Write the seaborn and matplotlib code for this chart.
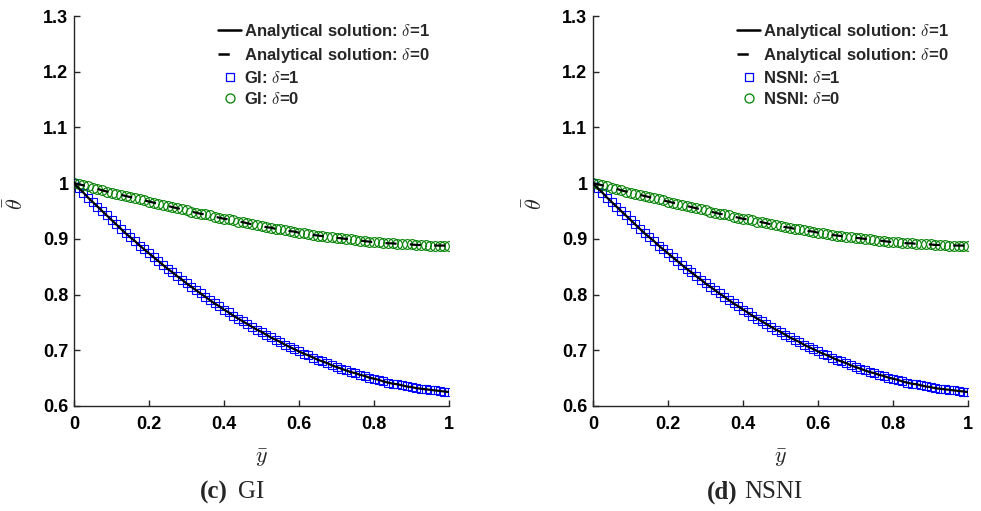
import numpy as np
import pandas as pd
import seaborn as sns
import matplotlib.pyplot as plt
from matplotlib.lines import Line2D

# ---------------- data ----------------
y_bar = np.linspace(0, 1, 81)

theta_delta1 = [
    1.000, 0.991, 0.983, 0.974, 0.966, 0.958, 0.950, 0.942, 0.934, 0.926,
    0.918, 0.910, 0.903, 0.896, 0.888, 0.881, 0.874, 0.867, 0.860, 0.853,
    0.846, 0.840, 0.833, 0.827, 0.820, 0.814, 0.808, 0.802, 0.796, 0.790,
    0.784, 0.779, 0.773, 0.768, 0.762, 0.757, 0.752, 0.747, 0.742, 0.737,
    0.733, 0.728, 0.723, 0.719, 0.715, 0.710, 0.706, 0.702, 0.698, 0.694,
    0.691, 0.687, 0.683, 0.680, 0.677, 0.673, 0.670, 0.667, 0.664, 0.661,
    0.659, 0.656, 0.654, 0.651, 0.649, 0.647, 0.644, 0.642, 0.640, 0.639,
    0.637, 0.635, 0.634, 0.632, 0.631, 0.630, 0.629, 0.628, 0.627, 0.626,
    0.625,
]

theta_delta0 = [
    1.000, 0.998, 0.996, 0.994, 0.992, 0.990, 0.987, 0.985, 0.983, 0.981,
    0.979, 0.977, 0.975, 0.973, 0.971, 0.969, 0.967, 0.965, 0.963, 0.961,
    0.959, 0.957, 0.955, 0.953, 0.951, 0.949, 0.947, 0.945, 0.944, 0.942,
    0.940, 0.938, 0.936, 0.935, 0.933, 0.931, 0.930, 0.928, 0.926, 0.925,
    0.923, 0.921, 0.920, 0.918, 0.917, 0.915, 0.914, 0.913, 0.911, 0.910,
    0.909, 0.907, 0.906, 0.905, 0.904, 0.903, 0.902, 0.901, 0.900, 0.899,
    0.898, 0.897, 0.896, 0.895, 0.894, 0.894, 0.893, 0.892, 0.892, 0.891,
    0.891, 0.890, 0.890, 0.889, 0.889, 0.889, 0.888, 0.888, 0.888, 0.888,
    0.888,
]

x_ticks = [0, 0.2, 0.4, 0.6, 0.8, 1.0]
x_tick_labels = ['0', '0.2', '0.4', '0.6', '0.8', '1']
y_ticks = [0.6, 0.7, 0.8, 0.9, 1.0, 1.1, 1.2, 1.3]
y_tick_labels = ['0.6', '0.7', '0.8', '0.9', '1', '1.1', '1.2', '1.3']

panel_methods = ['GI', 'NSNI']
panel_letters = ['(c)', '(d)']

# ---------------- style ----------------
sns.set_theme(style='ticks')
plt.rcParams['font.family'] = ['Liberation Sans', 'DejaVu Sans']
plt.rcParams['mathtext.fontset'] = 'cm'

W, H = 981, 511
fig = plt.figure(figsize=(W / 100, H / 100), dpi=100)

axis_color = '#262626'
ax_left_px = [74, 593]
ax_w_px = 375
ax_top_px, ax_bot_px = 16, 406

df = pd.DataFrame({'y_bar': y_bar, 'd1': theta_delta1, 'd0': theta_delta0})

for k, method in enumerate(panel_methods):
    ax = fig.add_axes([ax_left_px[k] / W, 1 - ax_bot_px / H,
                       ax_w_px / W, (ax_bot_px - ax_top_px) / H])

    # numerical markers
    sns.lineplot(data=df, x='y_bar', y='d1', ax=ax, linestyle='none',
                 marker='s', markersize=6.3, markerfacecolor='none',
                 markeredgecolor='#0000ff', markeredgewidth=0.8,
                 color='#0000ff', legend=False, zorder=2)
    sns.lineplot(data=df, x='y_bar', y='d0', ax=ax, linestyle='none',
                 marker='o', markersize=7.0, markerfacecolor='none',
                 markeredgecolor='#008000', markeredgewidth=0.8,
                 color='#008000', legend=False, zorder=2)
    # analytical solutions
    sns.lineplot(data=df, x='y_bar', y='d1', ax=ax, color='black',
                 linewidth=1.6, legend=False, zorder=3)
    sns.lineplot(data=df, x='y_bar', y='d0', ax=ax, color='black',
                 linewidth=1.6, linestyle=(0, (5, 6)), legend=False, zorder=3)

    ax.set_xlim(0, 1)
    ax.set_ylim(0.6, 1.3)
    ax.set_xticks(x_ticks)
    ax.set_xticklabels(x_tick_labels, fontweight='bold', fontsize=13)
    ax.set_yticks(y_ticks)
    ax.set_yticklabels(y_tick_labels, fontweight='bold', fontsize=13)
    ax.tick_params(direction='in', length=4, width=1, color=axis_color,
                   labelcolor='black')
    ax.tick_params(axis='x', pad=7)
    ax.tick_params(axis='y', pad=4)
    for s in ['top', 'right']:
        ax.spines[s].set_visible(False)
    for s in ['left', 'bottom']:
        ax.spines[s].set_color(axis_color)
        ax.spines[s].set_linewidth(1.0)

    ax.set_xlabel(r'$\bar{y}$', fontsize=16)
    ax.set_ylabel(r'$\bar{\theta}$', fontsize=16)
    ax.xaxis.set_label_coords(0.5, -0.105)
    ax.yaxis.set_label_coords(-0.122, 0.52)

    handles = [
        Line2D([], [], color='black', linewidth=1.8),
        Line2D([], [], color='black', linewidth=1.8, linestyle=(0, (4.5, 10))),
        Line2D([], [], linestyle='none', marker='s', markersize=6,
               markerfacecolor='none', markeredgecolor='#0000ff',
               markeredgewidth=0.9),
        Line2D([], [], linestyle='none', marker='o', markersize=6.5,
               markerfacecolor='none', markeredgecolor='#008000',
               markeredgewidth=0.9),
    ]
    labels = [
        r'Analytical solution: $\delta$=1',
        r'Analytical solution: $\delta$=0',
        method + r': $\delta$=1',
        method + r': $\delta$=0',
    ]
    ax.legend(handles, labels, loc='upper left',
              bbox_to_anchor=(0.385, 0.985), frameon=False,
              prop={'weight': 'bold', 'size': 12},
              handlelength=1.35, handletextpad=0.2, labelspacing=0.3,
              borderpad=0, borderaxespad=0)

# ---------------- captions ----------------
cap_y = 1 - 492 / H
cap_split = [(228, 238), (737, 744)]
for (xr, xl), letter, method in zip(cap_split, panel_letters, panel_methods):
    fig.text(xr / W, cap_y, letter, ha='right', va='center',
             family=['Liberation Serif', 'DejaVu Serif'], fontweight='bold',
             fontsize=18)
    fig.text(xl / W, cap_y, method, ha='left', va='center',
             family=['Liberation Serif', 'DejaVu Serif'], fontsize=18)

fig.savefig('out.png', dpi=100)
